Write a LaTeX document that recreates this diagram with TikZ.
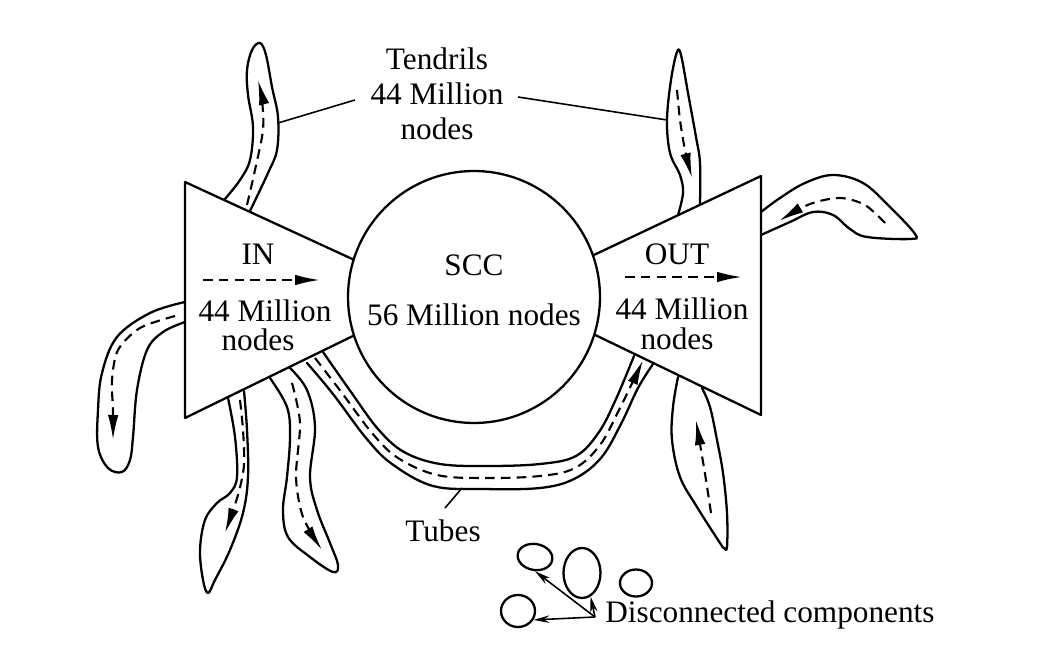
\documentclass[tikz,border=0pt]{standalone}
\usepackage{fontspec}
\setmainfont{Liberation Serif}
\usetikzlibrary{arrows.meta,shapes.geometric}
\begin{document}
\begin{tikzpicture}[x=0.02cm,y=-0.02cm,
  outline/.style={line width=1.3pt, line join=round, line cap=round},
  flow/.style={line width=1.2pt, dash pattern=on 5.5pt off 3.5pt},
  head/.style={-{Latex[length=5mm,width=2.1mm]}},
  lbl/.style={font=\fontsize{17.8}{20}\selectfont, inner sep=0pt, anchor=base},
  leader/.style={line width=0.9pt},
  blob/.style={draw, ellipse, line width=1.3pt, inner sep=0pt},
  small/.style={-{Stealth[length=3.2mm,width=1.5mm]}},
]
\useasboundingbox (0,0) rectangle (1042,651);

% IN and OUT trapezoids (inner ends hidden by the circle)
\draw[outline] (400,281) -- (185,182) -- (185,418) -- (400,313);
\draw[outline] (560,271) -- (761,176) -- (761,415) -- (560,318);

% SCC
\node[draw, circle, fill=white, line width=1.3pt, minimum size=5.04cm, inner sep=0pt] (scc) at (474,297) {};

% texts
\node[lbl] (sccA) at (474,276) {SCC};
\node[lbl] (sccB) at (474,326) {56 Million nodes};
\node[lbl] (inA) at (258,265) {IN};
\node[lbl] (inB) at (265,322) {44 Million};
\node[lbl] (inC) at (258,351) {nodes};
\node[lbl] (outA) at (677,265) {OUT};
\node[lbl] (outB) at (682,320) {44 Million};
\node[lbl] (outC) at (677,350) {nodes};
\node[lbl] (tenA) at (437,70) {Tendrils};
\node[lbl] (tenB) at (437,105) {44 Million};
\node[lbl] (tenC) at (437,140) {nodes};
\node[lbl] (tubes) at (443,542) {Tubes};
\node[lbl, anchor=base west] (disc) at (605,623) {Disconnected components};

% flow arrows in IN / OUT
\coordinate (inS) at (203,280); \coordinate (inE) at (320,280);
\coordinate (outS) at (625,277); \coordinate (outE) at (742,277);
\draw[flow, head] (inS) -- (inE);
\draw[flow, head] (outS) -- (outE);

% tendril 1 (top left)
\draw[outline] plot[smooth, tension=0.6] coordinates {(225,199) (240,180) (250,160) (253,127) (248,95) (247,70) (252,50) (260,43) (266,55) (272,87) (278,117) (277,150) (268,173) (250,211)};
\draw[flow, head] plot[smooth] coordinates {(247,205) (255,170) (263,130) (262,100) (258,80)};

% tendril 2 (top right)
\draw[outline] plot[smooth, tension=0.6] coordinates {(678,215) (683,193) (680,175) (670,153) (667,120) (671,80) (677,52) (681,55) (688,93) (696,137) (700,163) (700,204)};
\draw[flow, head] plot[smooth] coordinates {(677,90) (680,120) (685,150) (692,178)};

% tendril 3 (right)
\draw[outline] plot[smooth, tension=0.6] coordinates {(761,212) (780,198) (805,183) (833,175) (863,183) (890,207) (915,234) (910,239) (867,237) (850,229) (833,215) (813,212) (790,222) (761,235)};
\draw[flow, head] plot[smooth] coordinates {(885,223) (865,205) (840,198) (810,204) (779,221)};

% tendril 4 (left)
\draw[outline] plot[smooth, tension=0.6] coordinates {(185,302) (150,313) (117,337) (102,373) (98,410) (98,447) (108,468) (122,472) (130,460) (133,437) (137,390) (147,350) (163,332) (185,322)};
\draw[flow, head] plot[smooth] coordinates {(175,316) (140,328) (118,350) (112,380) (113,410) (113,440)};

% tendril 5 (bottom, first)
\draw[outline] plot[smooth, tension=0.6] coordinates {(228,398) (235,437) (237,477) (230,493) (217,503) (205,520) (200,550) (203,580) (208,593) (215,580) (230,550) (243,513) (248,477) (247,430) (244,391)};
\draw[flow, head] plot[smooth] coordinates {(240,400) (243,430) (244,465) (238,495) (225,533)};

% tendril 6 (bottom, second)
\draw[outline] plot[smooth, tension=0.6] coordinates {(270,378) (287,407) (290,437) (287,477) (283,510) (288,537) (310,557) (333,572) (338,565) (330,543) (317,510) (310,477) (315,427) (307,390) (290,368)};
\draw[flow, head] plot[smooth] coordinates {(292,383) (300,423) (296,477) (303,517) (322,550)};

% tendril 7 (below OUT)
\draw[outline] plot[smooth, tension=0.6] coordinates {(678,377) (673,407) (672,440) (680,477) (697,507) (720,543) (724,548) (727,547) (727,513) (723,473) (717,440) (710,407) (702,388)};
\draw[flow, head] plot[smooth] coordinates {(711,513) (706,480) (701,450) (696,420)};

% tube
\draw[outline] plot[smooth, tension=0.6] coordinates {(307,363) (333,394) (366,438) (392,464) (433,486) (483,489) (540,488) (574,479) (601,458) (621,424) (638,388) (653,364)};
\draw[outline] plot[smooth, tension=0.6] coordinates {(323,352) (351,392) (378,429) (404,452) (440,464) (487,466) (540,464) (576,456) (599,432) (616,399) (634,356)};
\draw[flow, head] plot[smooth, tension=0.6] coordinates {(315,358) (342,393) (372,433) (398,458) (437,475) (485,478) (540,476) (575,468) (600,445) (618,412) (636,375) (643,360)};

% leaders
\coordinate (lT1) at (278,123); \coordinate (lT2) at (667,120);
\coordinate (lTu) at (462,488);
\draw[leader] (355,100) -- (lT1);
\draw[leader] (518,97) -- (lT2);
\draw[leader] (445,508) -- (lTu);

% disconnected components
\node[blob, minimum width=0.7cm, minimum height=0.52cm, rotate=-10] (dA) at (535,557) {};
\node[blob, minimum width=0.74cm, minimum height=1.0cm] (dB) at (582,573) {};
\node[blob, minimum width=0.64cm, minimum height=0.54cm] (dC) at (636,583) {};
\node[blob, minimum width=0.68cm, minimum height=0.64cm] (dD) at (518,611) {};
\coordinate (hub) at (595,617);
\draw[leader, small] (hub) -- (dA.-80);
\draw[leader, small] (hub) -- (dB.-70);
\draw[leader, small] (hub) -- (dD.-30);
\end{tikzpicture}
\end{document}
